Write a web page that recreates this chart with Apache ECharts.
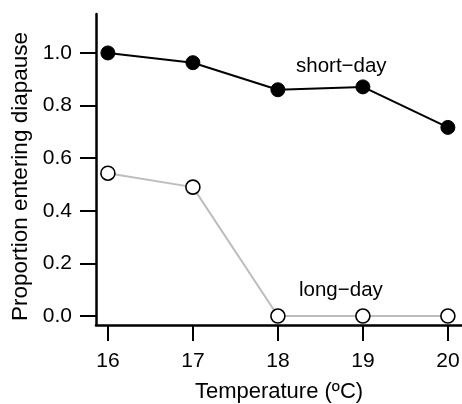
<!DOCTYPE html>
<html>
<head>
<meta charset="utf-8">
<script src="https://cdn.jsdelivr.net/npm/echarts@6/dist/echarts.min.js"></script>
<style>
  html, body { margin: 0; padding: 0; background: #fff; }
  #chart { width: 462px; height: 404px; }
</style>
</head>
<body>
<div id="chart"></div>
<script>
// temperatures (ºC)
var temps = [16, 17, 18, 19, 20]
// proportion entering diapause
var shortDay = [1.0, 0.963, 0.86, 0.871, 0.717]
var longDay = [0.543, 0.49, 0.0, 0.0, 0.0]
// tick values
var xTicks = [16, 17, 18, 19, 20]
var yTicks = [0, 0.2, 0.4, 0.6, 0.8, 1.0]

var font = '"Liberation Sans", Arial, Helvetica, sans-serif'

function pairs (xs, ys) {
  var out = []
  for (var i = 0; i < xs.length; i++) {
    out.push([xs[i], ys[i]])
  }
  return out
}

var chart = echarts.init(document.getElementById('chart'))
var option = {
  animation: false,
  backgroundColor: '#fff',
  textStyle: { fontFamily: font },
  // keep the grid where it is, no auto shrinking for labels
  grid: { left: 96, right: 0, top: 14, bottom: 79, outerBoundsMode: 'none', containLabel: false },
  xAxis: {
    type: 'value',
    min: 15.86,
    max: 20.166,
    splitLine: { show: false },
    axisLine: { onZero: false, lineStyle: { color: '#000', width: 2.5 } },
    axisTick: { customValues: xTicks, length: 16, lineStyle: { color: '#000', width: 2 } },
    axisLabel: { customValues: xTicks, margin: 26, color: '#000', fontSize: 21, fontFamily: font },
    name: 'Temperature (ºC)',
    nameLocation: 'middle',
    nameGap: 56,
    nameTextStyle: { color: '#000', fontSize: 22, fontFamily: font }
  },
  yAxis: {
    type: 'value',
    min: -0.034,
    max: 1.148,
    splitLine: { show: false },
    axisLine: { onZero: false, lineStyle: { color: '#000', width: 2.5 } },
    axisTick: { customValues: yTicks, length: 16, lineStyle: { color: '#000', width: 2 } },
    axisLabel: {
      customValues: yTicks,
      margin: 24,
      color: '#000',
      fontSize: 21,
      fontFamily: font,
      formatter: function (v) { return v.toFixed(1) }
    },
    name: 'Proportion entering diapause',
    nameLocation: 'middle',
    nameGap: 64,
    nameTextStyle: { color: '#000', fontSize: 22.5, fontFamily: font, padding: [0, 14, 0, 0] }
  },
  series: [
    {
      name: 'long-day',
      type: 'line',
      data: pairs(temps, longDay),
      symbol: 'circle',
      symbolSize: 14,
      lineStyle: { color: '#bdbdbd', width: 2 },
      itemStyle: { color: '#fff', borderColor: '#000', borderWidth: 1.6 }
    },
    {
      name: 'short-day',
      type: 'line',
      data: pairs(temps, shortDay),
      symbol: 'circle',
      symbolSize: 14,
      lineStyle: { color: '#000', width: 2 },
      itemStyle: { color: '#000', borderColor: '#000', borderWidth: 1 }
    }
  ],
  graphic: [
    {
      type: 'text',
      left: 296,
      top: 56,
      style: { text: 'short\u2212day', fill: '#000', font: '20.5px ' + font }
    },
    {
      type: 'text',
      left: 299,
      top: 280,
      style: { text: 'long\u2212day', fill: '#000', font: '20.5px ' + font }
    }
  ]
}
chart.setOption(option)
window.addEventListener('resize', function () {
  chart.resize()
})
</script>
</body>
</html>
